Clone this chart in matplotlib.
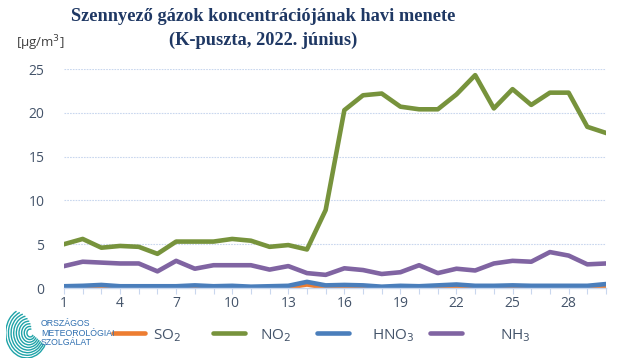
import numpy as np
import matplotlib
matplotlib.use("Agg")
import matplotlib.pyplot as plt
from matplotlib.patches import Arc
from matplotlib.lines import Line2D

days = list(range(1, 31))
so2 = [0.05, 0.05, 0.1, 0.05, 0.15, 0.05, 0.05, 0.15, 0.05, 0.05,
       0.05, 0.05, 0.05, 0.4, 0.05, 0.05, 0.05, 0.05, 0.05, 0.05,
       0.1, 0.15, 0.05, 0.05, 0.1, 0.05, 0.05, 0.05, 0.05, 0.2]
no2 = [5.0, 5.6, 4.6, 4.8, 4.7, 3.9, 5.3, 5.3, 5.3, 5.6,
       5.4, 4.7, 4.9, 4.4, 8.9, 20.3, 22.0, 22.2, 20.7, 20.4,
       20.4, 22.1, 24.3, 20.5, 22.7, 20.9, 22.3, 22.3, 18.4, 17.7]
hno3 = [0.2, 0.25, 0.35, 0.2, 0.2, 0.2, 0.2, 0.3, 0.2, 0.25,
        0.15, 0.2, 0.25, 0.7, 0.3, 0.35, 0.3, 0.15, 0.25, 0.2,
        0.3, 0.4, 0.25, 0.25, 0.3, 0.25, 0.25, 0.25, 0.25, 0.45]
nh3 = [2.5, 3.0, 2.9, 2.8, 2.8, 1.9, 3.1, 2.2, 2.6, 2.6,
       2.6, 2.1, 2.5, 1.7, 1.5, 2.25, 2.05, 1.6, 1.8, 2.6,
       1.7, 2.2, 2.0, 2.8, 3.1, 3.0, 4.1, 3.7, 2.7, 2.8]

series = [
    ("SO$_2$", so2, "#ED7D31"),
    ("NO$_2$", no2, "#77933C"),
    ("HNO$_3$", hno3, "#4A7EBB"),
    ("NH$_3$", nh3, "#8064A2"),
]
title_lines = ["Szennyező gázok koncentrációjának havi menete", "(K-puszta, 2022. június)"]
txt = "#44546A"

fig = plt.figure(figsize=(6.4, 3.6), dpi=100)
ax = fig.add_axes([64 / 640, 1 - 288 / 360, (606 - 64) / 640, (288 - 69) / 360])

for name, vals, col in series:
    ax.plot(days, vals, color=col, lw=3.3, label=name, solid_joinstyle="round")

ax.set_xlim(1, 30)
ax.set_ylim(0, 25)
ax.set_yticks([0, 5, 10, 15, 20, 25])
ax.set_xticks(days)
ax.set_xticklabels([str(d) if (d - 1) % 3 == 0 else "" for d in days])
ax.grid(axis="y", color="#C9D7EE", lw=0.8, ls=(0, (1.5, 1)))
ax.set_axisbelow(True)
for s in ["top", "right", "left"]:
    ax.spines[s].set_visible(False)
ax.spines["bottom"].set_color("#C9D7EE")
ax.spines["bottom"].set_linewidth(1)
ax.tick_params(axis="x", length=4, color="#C9D7EE", labelsize=10, labelcolor=txt, pad=2)
ax.tick_params(axis="y", length=0, labelsize=10, labelcolor=txt, pad=14)
for t in ax.get_xticklabels() + ax.get_yticklabels():
    t.set_family("Open Sans")

for line, base in zip(title_lines, [21, 45]):
    fig.text(263 / 640, 1 - base / 360, line, ha="center", va="baseline", fontsize=13.2,
             fontweight="bold", color="#1F3864", family="Liberation Serif")
fig.text(16 / 640, 1 - 43 / 360, "[μg/m$^3$]", fontsize=9.5, color="#404040", family="Open Sans",
         va="center")

# legend, laid out by hand like the original
leg_x = [(113, 153), (213, 260), (317, 372), (430, 500)]
ly = 1 - 333 / 360
for (name, vals, col), (hx, tx) in zip(series, leg_x):
    fig.add_artist(Line2D([hx / 640, (hx + 32) / 640], [ly, ly], color=col, lw=3.3,
                          solid_capstyle="round", transform=fig.transFigure))
    fig.text(tx / 640, ly - 0.008, name, fontsize=11, color=txt, family="Open Sans", va="center")

# logo
lax = fig.add_axes([6 / 640, 1 - 358 / 360, 44 / 640, 50 / 360])
lax.set_xlim(-1, 1)
lax.set_ylim(-1, 1)
lax.axis("off")
for i, r in enumerate(np.linspace(0.3, 1.9, 9)):
    lax.add_patch(Arc((0.1 - i * 0.02, 0), r, r * 1.05, theta1=70 + i * 6, theta2=330,
                      color="#1FA3A8", lw=1.0))
fig.text(41 / 640, 1 - 333 / 360, "ORSZÁGOS\nMETEOROLÓGIAI\nSZOLGÁLAT", fontsize=6.3,
         color="#2F6FB0", va="center", ha="left", linespacing=1.05, family="Liberation Sans")

fig.savefig("out.png", dpi=100)
